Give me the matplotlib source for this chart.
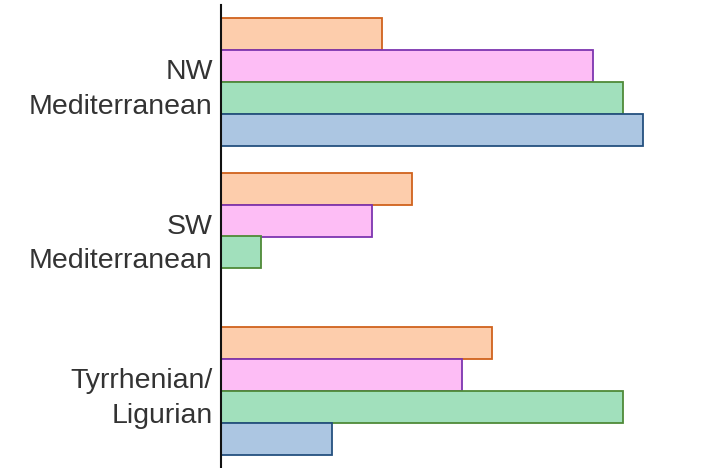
import matplotlib
matplotlib.use("Agg")
import matplotlib.pyplot as plt
import numpy as np

plt.rcParams['font.family'] = ['Liberation Sans', 'DejaVu Sans']

categories = ["NW\nMediterranean", "SW\nMediterranean", "Tyrrhenian/\nLigurian"]
series_names = ["S1", "S2", "S3", "S4"]  # top to bottom within each group
orange_vals = [16.1, 19.1, 27.1]
pink_vals = [37.2, 15.1, 24.1]
green_vals = [40.2, 4.0, 40.2]
blue_vals = [42.2, 0.0, 11.1]

fills = ["#FDCDAC", "#FDBDF5", "#A1E0BC", "#ACC6E2"]
edges = ["#D0621C", "#7D35B0", "#4F8A38", "#24507F"]
values = [orange_vals, pink_vals, green_vals, blue_vals]

fig = plt.figure(figsize=(7.09, 4.68), dpi=100)
ax = fig.add_axes([221/709, 0.0, 1 - 221/709, 463/468])

y = np.arange(len(categories))
h = 0.207
offsets = [-1.5 * h, -0.5 * h, 0.5 * h, 1.5 * h]
for vals, fc, ec, off in zip(values, fills, edges, offsets):
    v = np.array(vals)
    mask = v > 0
    ax.barh(y[mask] + off, v[mask], height=h, color=fc, edgecolor=ec, linewidth=1.3)

ax.set_ylim(2.5, -0.5)
ax.set_xlim(0, 48.8)
ax.set_yticks(y)
labels = ax.set_yticklabels(categories, fontsize=20.5, color="#333333", ha="right")
for t in labels:
    t.set_linespacing(1.45)
ax.tick_params(axis="y", length=0, pad=6)
ax.set_xticks([])
for s in ["top", "right", "bottom"]:
    ax.spines[s].set_visible(False)
ax.spines["left"].set_linewidth(1.5)
ax.spines["left"].set_color("#111111")

fig.savefig("out.png", dpi=100)
